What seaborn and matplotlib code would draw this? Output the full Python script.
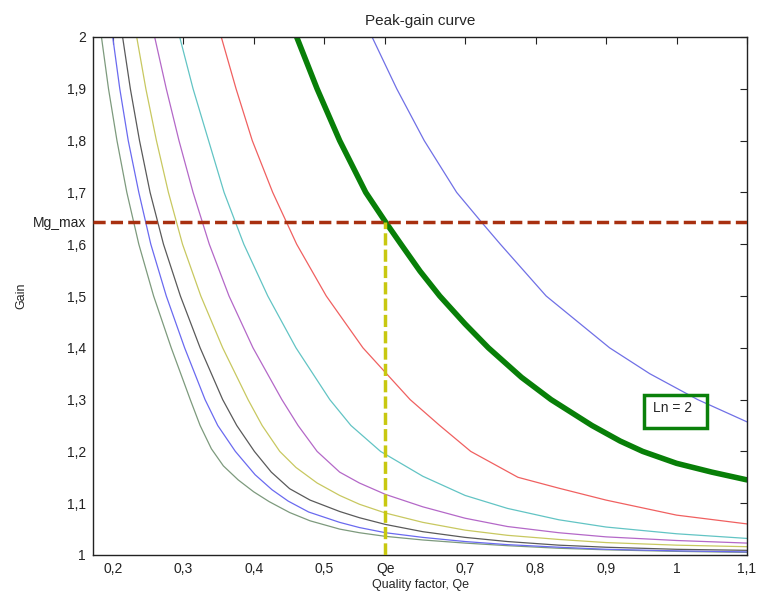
import matplotlib
matplotlib.use("Agg")
import matplotlib.pyplot as plt
import matplotlib.patches as mpatches
import seaborn as sns
import pandas as pd

# ---- data (Quality factor, Gain) ----
q_grayg = [0.184, 0.194, 0.206, 0.220, 0.237, 0.258, 0.283, 0.310, 0.324, 0.340, 0.357, 0.378,
           0.400, 0.422, 0.451, 0.480, 0.522, 0.550, 0.587, 0.640, 0.700, 0.760, 0.833, 0.900, 1.000, 1.100]
g_grayg = [2.000, 1.900, 1.800, 1.700, 1.600, 1.500, 1.400, 1.300, 1.250, 1.205, 1.172, 1.145,
           1.122, 1.103, 1.082, 1.066, 1.050, 1.043, 1.036, 1.029, 1.023, 1.018, 1.013, 1.010, 1.007, 1.005]

q_blue = [0.200, 0.210, 0.222, 0.237, 0.254, 0.276, 0.302, 0.331, 0.349, 0.374, 0.402, 0.426,
          0.449, 0.478, 0.522, 0.550, 0.587, 0.640, 0.700, 0.760, 0.833, 0.900, 1.000, 1.100]
g_blue = [2.000, 1.900, 1.800, 1.700, 1.600, 1.500, 1.400, 1.300, 1.250, 1.200, 1.155, 1.126,
          1.104, 1.083, 1.063, 1.053, 1.043, 1.034, 1.026, 1.020, 1.015, 1.011, 1.008, 1.006]

q_dgray = [0.214, 0.225, 0.238, 0.253, 0.272, 0.296, 0.324, 0.356, 0.376, 0.401, 0.425, 0.451,
           0.480, 0.522, 0.550, 0.587, 0.640, 0.700, 0.760, 0.833, 0.900, 1.000, 1.100]
g_dgray = [2.000, 1.900, 1.800, 1.700, 1.600, 1.500, 1.400, 1.300, 1.250, 1.200, 1.160, 1.128,
           1.106, 1.084, 1.072, 1.059, 1.045, 1.034, 1.026, 1.019, 1.015, 1.011, 1.009]

q_yell = [0.234, 0.247, 0.262, 0.279, 0.299, 0.325, 0.356, 0.392, 0.412, 0.437, 0.460, 0.490,
          0.522, 0.550, 0.587, 0.640, 0.700, 0.760, 0.833, 0.900, 1.000, 1.100]
g_yell = [2.000, 1.900, 1.800, 1.700, 1.600, 1.500, 1.400, 1.300, 1.250, 1.200, 1.169, 1.139,
          1.115, 1.098, 1.081, 1.063, 1.048, 1.038, 1.030, 1.024, 1.019, 1.016]

q_purp = [0.2595, 0.276, 0.294, 0.314, 0.337, 0.365, 0.399, 0.440, 0.463, 0.490, 0.522, 0.550,
          0.587, 0.640, 0.700, 0.760, 0.833, 0.900, 1.000, 1.100]
g_purp = [2.000, 1.900, 1.800, 1.700, 1.600, 1.500, 1.400, 1.300, 1.250, 1.200, 1.160, 1.139,
          1.117, 1.093, 1.071, 1.055, 1.043, 1.035, 1.028, 1.023]

q_cyan = [0.295, 0.314, 0.336, 0.358, 0.386, 0.420, 0.460, 0.508, 0.538, 0.580, 0.640, 0.700,
          0.760, 0.833, 0.900, 1.000, 1.100]
g_cyan = [2.000, 1.900, 1.800, 1.700, 1.600, 1.500, 1.400, 1.300, 1.250, 1.200, 1.152, 1.115,
          1.090, 1.068, 1.054, 1.041, 1.032]

q_red = [0.354, 0.375, 0.398, 0.427, 0.461, 0.503, 0.555, 0.622, 0.664, 0.708, 0.775, 0.833,
         0.900, 1.000, 1.100]
g_red = [2.000, 1.900, 1.800, 1.700, 1.600, 1.500, 1.400, 1.300, 1.250, 1.200, 1.150, 1.129,
         1.106, 1.077, 1.060]

q_ln2 = [0.461, 0.490, 0.522, 0.559, 0.587, 0.609, 0.636, 0.664, 0.700, 0.733, 0.780, 0.822,
         0.880, 0.920, 0.952, 1.000, 1.050, 1.100]
g_ln2 = [2.000, 1.900, 1.800, 1.700, 1.643, 1.600, 1.548, 1.500, 1.446, 1.400, 1.343, 1.300,
         1.250, 1.220, 1.200, 1.177, 1.160, 1.145]

q_blue2 = [0.568, 0.603, 0.642, 0.688, 0.723, 0.750, 0.815, 0.905, 0.962, 1.030, 1.100]
g_blue2 = [2.000, 1.900, 1.800, 1.700, 1.643, 1.600, 1.500, 1.400, 1.350, 1.300, 1.257]

qe_value = 0.587
mg_max = 1.643

x_ticks = [0.2, 0.3, 0.4, 0.5, qe_value, 0.7, 0.8, 0.9, 1.0, 1.1]
x_tick_labels = ["0,2", "0,3", "0,4", "0,5", "Qe", "0,7", "0,8", "0,9", "1", "1,1"]
y_ticks = [1.0, 1.1, 1.2, 1.3, 1.4, 1.5, 1.6, mg_max, 1.7, 1.8, 1.9, 2.0]
y_tick_labels = ["1", "1,1", "1,2", "1,3", "1,4", "1,5", "1,6", "Mg_max", "1,7", "1,8", "1,9", "2"]

thin_curves = [
    ("grayg", q_grayg, g_grayg, "#7d9a7d"),
    ("blue", q_blue, g_blue, "#6a6af0"),
    ("dgray", q_dgray, g_dgray, "#5a5a5a"),
    ("yell", q_yell, g_yell, "#c8c860"),
    ("purp", q_purp, g_purp, "#b468c8"),
    ("cyan", q_cyan, g_cyan, "#62c4c4"),
    ("red", q_red, g_red, "#f06060"),
    ("blue2", q_blue2, g_blue2, "#7070e6"),
]

rows = []
for name, qs, gs, _ in thin_curves:
    for q, g in zip(qs, gs):
        rows.append({"curve": name, "Q": q, "Gain": g})
df = pd.DataFrame(rows)
df_ln2 = pd.DataFrame({"Q": q_ln2, "Gain": g_ln2})
palette = {name: col for name, _, _, col in thin_curves}

sns.set_style("white")
plt.rcParams["font.family"] = ["Liberation Sans", "DejaVu Sans"]

fig = plt.figure(figsize=(7.57, 5.95), dpi=100)
ax = fig.add_axes([93 / 757, 40 / 595, 654 / 757, 518 / 595])

sns.lineplot(data=df, x="Q", y="Gain", hue="curve", palette=palette,
             estimator=None, linewidth=0.9, legend=False, ax=ax)
sns.lineplot(data=df_ln2, x="Q", y="Gain", color="#087f08",
             estimator=None, linewidth=4, legend=False, ax=ax)
for line in ax.get_lines():
    line.set_solid_joinstyle("round")
    line.set_solid_capstyle("round")

ax.axhline(mg_max, color="#a83010", linewidth=2.5, linestyle=(0, (3.5, 1.5)), zorder=4)
ax.plot([qe_value, qe_value], [1.0, mg_max], color="#c8c810", linewidth=2.5,
        linestyle=(0, (3.5, 1.2)), zorder=5)

ax.add_patch(mpatches.Rectangle((0.954, 1.245), 0.089, 0.064, fill=False,
                                edgecolor="#0a800a", linewidth=2.5, zorder=6))
ax.text(0.966, 1.284, "Ln = 2", fontsize=10, ha="left", va="center", zorder=7)

ax.set_xlim(0.172, 1.1)
ax.set_ylim(1.0, 2.0)
ax.set_xticks(x_ticks)
ax.set_xticklabels(x_tick_labels)
ax.set_yticks(y_ticks)
ax.set_yticklabels(y_tick_labels)
ax.tick_params(direction="in", length=5, width=0.8, labelsize=10, top=True, right=True,
               colors="#222222", pad=5)
for s in ax.spines.values():
    s.set_color("#222222")
    s.set_linewidth(1.0)
    s.set_visible(True)

ax.set_title("Peak-gain curve", fontsize=11, pad=9)
ax.set_xlabel("Quality factor, Qe", fontsize=9, labelpad=2)
ax.set_ylabel("Gain", fontsize=9, labelpad=4)

fig.savefig("out.png", dpi=100)
